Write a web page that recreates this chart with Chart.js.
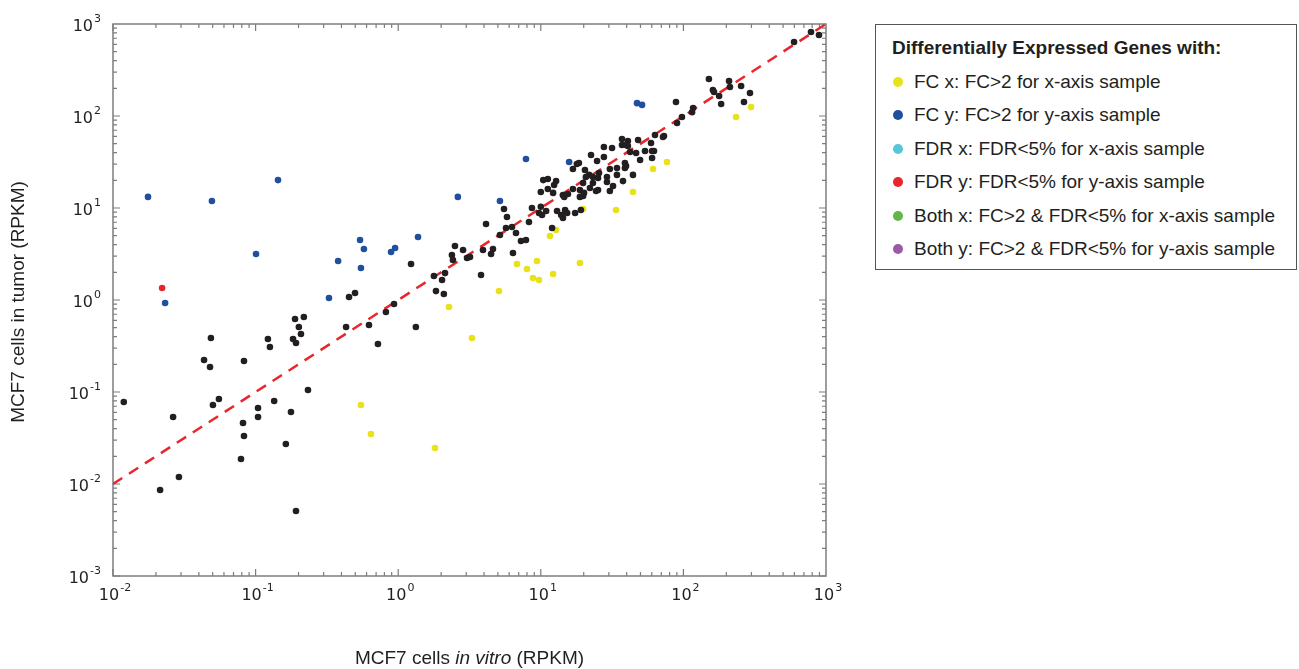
<!DOCTYPE html>
<html>
<head>
<meta charset="utf-8">
<script src="https://cdn.jsdelivr.net/npm/chart.js@4.4.1/dist/chart.umd.min.js"></script>
<style>
  body { margin: 0; background: #fff; }
  #wrap { position: relative; width: 1299px; height: 669px; }
  #legend {
    position: absolute; left: 875px; top: 24px; width: 422px; height: 246px;
    box-sizing: border-box; border: 1px solid #555; background: #fff;
    font-family: "Liberation Sans", Arial, sans-serif; font-size: 19px; color: #231f20;
  }
  #legend .title { position: absolute; left: 16px; top: 12px; font-weight: bold; white-space: nowrap; }
  #legend .row { position: absolute; left: 0; height: 24px; line-height: 24px; white-space: nowrap; }
  #legend .dot { position: absolute; left: 17px; top: 7px; width: 10px; height: 10px; border-radius: 50%; }
  #legend .txt { position: absolute; left: 38px; top: 0; }
</style>
</head>
<body>
<div id="wrap">
  <canvas id="myChart" width="1299" height="669"></canvas>
  <div id="legend"></div>
</div>
<script>
// axis range (decades)
const xRange = [0.01, 1000];
const yRange = [0.001, 1000];
const xTickExps = [-2, -1, 0, 1, 2, 3];
const yTickExps = [-3, -2, -1, 0, 1, 2, 3];

// y = x reference line
const diagLine = [0.01, 1000];

// FC x: FC>2 for x-axis sample
const fcxX = [2.27, 3.29, 5.09, 6.81, 8.0, 9.4, 8.81, 9.71, 12.2, 18.8, 11.6, 12.8, 19.8, 33.7, 44.3, 61.2, 76.7, 234, 298, 0.548, 0.644, 1.81];
const fcxY = [0.84, 0.386, 1.25, 2.46, 2.17, 2.65, 1.73, 1.65, 1.92, 2.52, 4.97, 5.77, 9.75, 9.5, 14.9, 26.5, 31.6, 97.5, 125, 0.0722, 0.0349, 0.0246];

// FC y: FC>2 for y-axis sample
const fcyX = [0.0176, 0.0494, 0.1436, 0.1007, 0.379, 0.327, 0.0232, 0.540, 0.575, 0.548, 0.891, 0.951, 1.377, 2.62, 5.17, 7.87, 15.8, 47.3, 51.3];
const fcyY = [13.2, 11.9, 20.1, 3.16, 2.65, 1.05, 0.927, 4.49, 3.58, 2.23, 3.32, 3.67, 4.84, 13.2, 11.9, 34.1, 31.6, 138, 132];

// FDR y: FDR<5% for y-axis sample
const fdryX = [0.0221];
const fdryY = [1.35];

// categories with no genes in this comparison
const fdrxX = [], fdrxY = [];
const bothxX = [], bothxY = [];
const bothyX = [], bothyY = [];

// genes without differential expression
const otherX = [
  0.0486, 0.189, 0.218, 0.201, 0.208, 0.183, 0.192, 0.122, 0.126, 0.431,
  0.0435, 0.0479, 0.0829, 0.233, 0.0553, 0.135, 0.0119, 0.0264, 0.0502, 0.104,
  0.104, 0.177, 0.0816, 0.0829, 0.163, 0.079, 0.0214, 0.029, 0.192, 0.452,
  0.498, 1.23, 0.624, 0.721, 0.82, 0.935, 1.33, 1.78, 2.03, 2.13,
  1.84, 2.09, 2.38, 2.50, 2.42, 2.85, 3.04, 3.19, 3.81, 3.93,
  4.48, 4.62, 4.13, 5.17, 5.70, 6.28, 5.52, 5.79, 6.70, 7.26,
  7.87, 6.38, 8.26, 8.67, 10.0, 10.0, 9.71, 10.2, 10.9, 12.0,
  10.4, 11.2, 12.8, 12.4, 11.2, 12.2, 13.0, 13.9, 14.3, 14.8,
  15.3, 17.4, 19.1, 14.3, 15.5, 14.6, 16.8, 18.8, 20.1, 18.8,
  19.8, 16.8, 17.9, 18.5, 20.4, 21.8, 23.2, 25.2, 25.6, 20.7,
  19.8, 23.2, 22.1, 25.2, 24.4, 29.1, 29.1, 32.1, 30.5, 34.2,
  37.7, 22.5, 24.8, 27.7, 27.7, 31.6, 30.5, 34.2, 38.9, 38.9,
  39.6, 44.3, 37.1, 40.8, 48.1, 37.1, 39.6, 40.8, 42.3, 46.6,
  49.7, 53.8, 59.3, 60.3, 62.2, 60.3, 63.2, 73.1, 71.9, 88.7,
  90.2, 97.7, 117, 115, 151, 209, 212, 161, 164, 178,
  184, 254, 266, 293, 597, 785, 893
];
const otherY = [
  0.386, 0.621, 0.653, 0.509, 0.427, 0.377, 0.341, 0.377, 0.308, 0.509,
  0.223, 0.187, 0.217, 0.105, 0.0839, 0.0798, 0.0778, 0.0535, 0.0723, 0.067,
  0.0535, 0.0607, 0.046, 0.0333, 0.0272, 0.0187, 0.00861, 0.0119, 0.00509, 1.08,
  1.19, 2.46, 0.535, 0.333, 0.741, 0.906, 0.509, 1.82, 1.65, 1.96,
  1.25, 1.16, 3.08, 3.86, 2.72, 3.49, 2.86, 2.93, 1.87, 3.49,
  3.16, 3.58, 6.70, 5.09, 6.07, 6.21, 9.75, 7.98, 5.35, 4.38,
  4.49, 3.24, 7.05, 10.0, 10.3, 14.9, 8.83, 8.39, 9.27, 6.07,
  20.1, 20.7, 19.6, 17.8, 16.1, 14.6, 9.27, 8.39, 7.78, 9.51,
  8.83, 8.83, 9.51, 13.8, 14.2, 13.2, 16.1, 15.7, 14.6, 13.2,
  13.5, 26.5, 30.1, 30.8, 25.9, 22.9, 21.7, 21.2, 24.0, 21.7,
  18.7, 18.7, 16.5, 15.7, 15.3, 21.7, 19.2, 17.3, 15.3, 22.9,
  19.6, 37.7, 32.4, 35.8, 46.0, 44.9, 26.5, 27.2, 27.2, 30.8,
  28.6, 22.9, 56.2, 53.5, 54.8, 48.4, 48.4, 47.2, 40.6, 39.6,
  33.3, 41.7, 50.9, 41.7, 41.7, 34.9, 62.1, 60.7, 59.2, 142,
  83.9, 97.5, 122, 110, 252, 240, 207, 192, 182, 165,
  135, 212, 142, 178, 637, 818, 759
];

const textColor = "#231f20";
const axisColor = "#7d7d7d";
const baseFont = '"Liberation Sans", Arial, sans-serif';
const tickFont = '"DejaVu Sans", sans-serif';

function toPoints(xs, ys) {
  return xs.map((x, i) => ({ x: x, y: ys[i] }));
}

function pointSet(label, xs, ys, color, inLegend) {
  return {
    type: "scatter",
    label: label,
    data: toPoints(xs, ys),
    backgroundColor: color,
    borderColor: color,
    borderWidth: 0,
    pointRadius: 3.3,
    inLegend: inLegend,
  };
}

const datasets = [
  pointSet("Not DE", otherX, otherY, "#231f20", false),
  pointSet("FC x: FC>2 for x-axis sample", fcxX, fcxY, "#e8e21a", true),
  pointSet("FC y: FC>2 for y-axis sample", fcyX, fcyY, "#1f4f9e", true),
  pointSet("FDR x: FDR<5% for x-axis sample", fdrxX, fdrxY, "#56c6d8", true),
  pointSet("FDR y: FDR<5% for y-axis sample", fdryX, fdryY, "#e8262b", true),
  pointSet("Both x: FC>2 & FDR<5% for x-axis sample", bothxX, bothxY, "#62b846", true),
  pointSet("Both y: FC>2 & FDR<5% for y-axis sample", bothyX, bothyY, "#9b5aa8", true),
  {
    type: "line",
    label: "y = x",
    data: toPoints(diagLine, diagLine),
    borderColor: "#e8262b",
    borderWidth: 2.5,
    borderDash: [11, 8],
    pointRadius: 0,
    fill: false,
    inLegend: false,
  },
];

// writes 10 with a raised exponent, centred on x (align "center") or ending at x (align "right")
function drawPower(ctx, exp, x, y, align) {
  const base = "10";
  const sup = exp < 0 ? "-" + Math.abs(exp) : String(exp);
  ctx.font = "16px " + tickFont;
  const wBase = ctx.measureText(base).width;
  ctx.font = "11px " + tickFont;
  const wSup = ctx.measureText(sup).width;
  const total = wBase + wSup + 1;
  let left = align === "right" ? x - total : x - total / 2;
  ctx.textAlign = "left";
  ctx.textBaseline = "middle";
  ctx.font = "16px " + tickFont;
  ctx.fillText(base, left, y);
  ctx.font = "11px " + tickFont;
  ctx.fillText(sup, left + wBase + 1, y - 8);
}

const logFrame = {
  id: "logFrame",
  beforeDatasetsDraw(chart) {
    const ctx = chart.ctx;
    const a = chart.chartArea;
    const xs = chart.scales.x;
    const ys = chart.scales.y;
    ctx.save();
    ctx.strokeStyle = axisColor;
    ctx.lineWidth = 1.5;
    ctx.strokeRect(a.left, a.top, a.right - a.left, a.bottom - a.top);

    // inward ticks on all four sides
    ctx.lineWidth = 1.2;
    ctx.beginPath();
    for (let e = -2; e < 3; e++) {
      for (let m = 1; m < 10; m++) {
        const px = xs.getPixelForValue(m * Math.pow(10, e));
        const len = m === 1 ? 7 : 4;
        ctx.moveTo(px, a.bottom); ctx.lineTo(px, a.bottom - len);
        ctx.moveTo(px, a.top); ctx.lineTo(px, a.top + len);
      }
    }
    for (let e = -3; e < 3; e++) {
      for (let m = 1; m < 10; m++) {
        const py = ys.getPixelForValue(m * Math.pow(10, e));
        const len = m === 1 ? 7 : 4;
        ctx.moveTo(a.left, py); ctx.lineTo(a.left + len, py);
        ctx.moveTo(a.right, py); ctx.lineTo(a.right - len, py);
      }
    }
    ctx.stroke();
    ctx.restore();
  },
  afterDraw(chart) {
    const ctx = chart.ctx;
    const a = chart.chartArea;
    const xs = chart.scales.x;
    const ys = chart.scales.y;
    ctx.save();
    ctx.fillStyle = textColor;

    xTickExps.forEach((e) => {
      drawPower(ctx, e, xs.getPixelForValue(Math.pow(10, e)) + 2, a.bottom + 20, "center");
    });
    yTickExps.forEach((e) => {
      drawPower(ctx, e, a.left - 12, ys.getPixelForValue(Math.pow(10, e)) + 3, "right");
    });

    // y axis title
    ctx.font = "19px " + baseFont;
    ctx.textAlign = "center";
    ctx.textBaseline = "middle";
    ctx.save();
    ctx.translate(19, (a.top + a.bottom) / 2 + 2);
    ctx.rotate(-Math.PI / 2);
    ctx.fillText("MCF7 cells in tumor (RPKM)", 0, 0);
    ctx.restore();

    // x axis title with italic "in vitro"
    const parts = [
      ["MCF7 cells ", "19px " + baseFont],
      ["in vitro", "italic 19px " + baseFont],
      [" (RPKM)", "19px " + baseFont],
    ];
    let total = 0;
    parts.forEach((p) => { ctx.font = p[1]; total += ctx.measureText(p[0]).width; });
    let x = (a.left + a.right) / 2 - total / 2;
    ctx.textAlign = "left";
    parts.forEach((p) => {
      ctx.font = p[1];
      ctx.fillText(p[0], x, 659);
      x += ctx.measureText(p[0]).width;
    });
    ctx.restore();
  },
};

const ctx = document.getElementById("myChart");
const chart = new Chart(ctx, {
  data: { datasets: datasets },
  options: {
    responsive: false,
    animation: false,
    layout: { padding: { left: 113, right: 473, top: 24, bottom: 93 } },
    scales: {
      x: { type: "logarithmic", min: xRange[0], max: xRange[1], display: false },
      y: { type: "logarithmic", min: yRange[0], max: yRange[1], display: false },
    },
    plugins: {
      legend: { display: false },
      tooltip: { enabled: false },
    },
  },
  plugins: [logFrame],
});

function renderLegend() {
  const box = document.getElementById("legend");
  let html = `<div class="title">Differentially Expressed Genes with:</div>`;
  let i = 0;
  chart.data.datasets.forEach((ds) => {
    if (!ds.inLegend) return;
    const top = 45 + i * 33.4;
    html += `<div class="row" style="top:${top}px"><span class="dot" style="background:${ds.backgroundColor}"></span><span class="txt">${ds.label.replace(/&/g, "&amp;").replace(/</g, "&lt;").replace(/>/g, "&gt;")}</span></div>`;
    i++;
  });
  box.innerHTML = html;
}
renderLegend();
</script>
</body>
</html>
